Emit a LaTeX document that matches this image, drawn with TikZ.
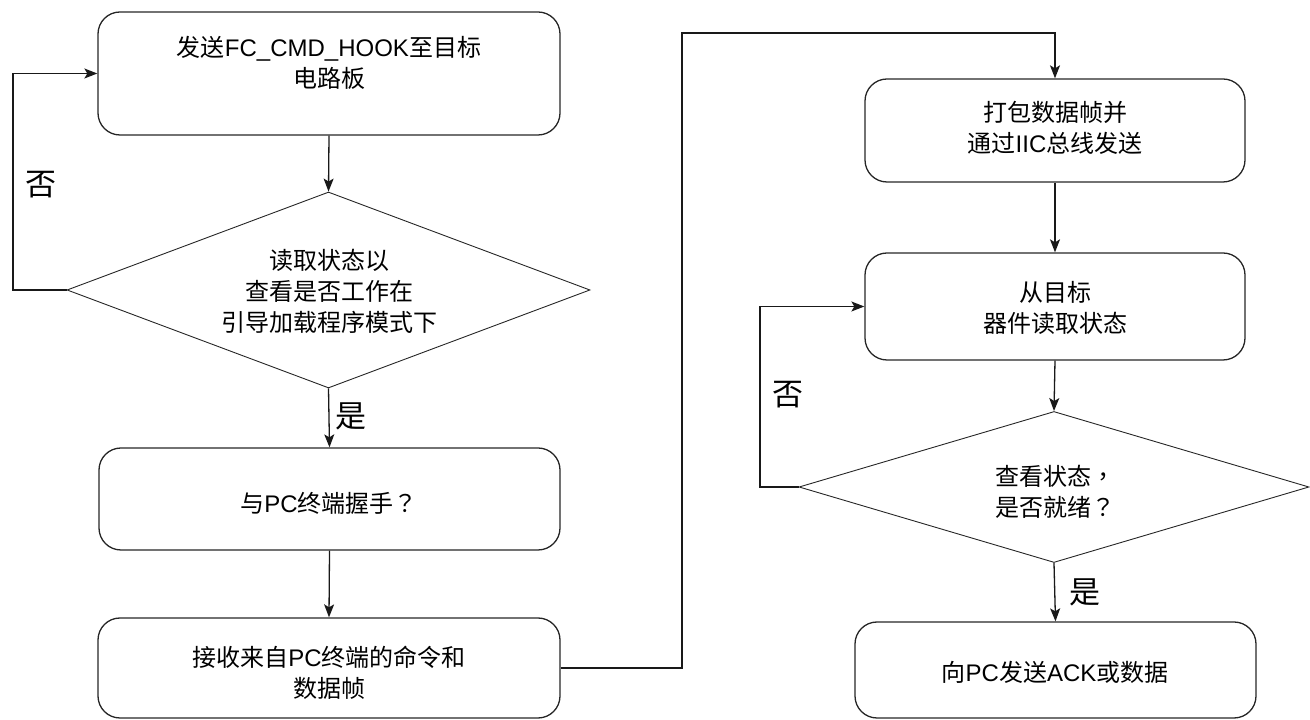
\documentclass[tikz,border=0pt]{standalone}
\usepackage{fontspec}
\setmainfont{Noto Sans CJK SC}
\newfontfamily\lat{Liberation Sans}
\newfontfamily\tcp{Noto Sans CJK TC}
\usetikzlibrary{shapes.geometric,arrows.meta}
\begin{document}
\begin{tikzpicture}[x=1pt,y=1pt,
  box/.style={draw=black!85, line width=1.3pt, rounded corners=22pt, inner sep=0pt},
  dia/.style={draw=black!85, line width=0.9pt, diamond, inner sep=0pt},
  txt/.style={font=\fontsize{24pt}{31pt}\selectfont, align=center, inner sep=0pt},
  lbl/.style={font=\fontsize{31pt}{31pt}\selectfont, inner sep=0pt},
  conn/.style={draw=black!90, line width=1.3pt},
  arr/.style={conn, -{Stealth[length=13pt,width=10pt,inset=3pt]}}]
\useasboundingbox (0,0) rectangle (1310,720);
% shapes
\node[box, minimum width=462pt, minimum height=123pt] (b1) at (329,646.5) {};
\node[dia, minimum width=523pt, minimum height=196pt] (d1) at (328.5,430) {};
\node[box, minimum width=461pt, minimum height=102pt] (b2) at (329.5,221) {};
\node[box, minimum width=462pt, minimum height=100pt] (b3) at (329,52) {};
\node[box, minimum width=380pt, minimum height=103pt] (b4) at (1055,589.5) {};
\node[box, minimum width=380pt, minimum height=107pt] (b5) at (1055,413.5) {};
\node[dia, minimum width=510pt, minimum height=151pt] (d2) at (1054,233) {};
\node[box, minimum width=401pt, minimum height=96pt] (b6) at (1055.5,50) {};
% texts
\node[txt] (t1) at (329,657) {发送{\lat FC\_CMD\_HOOK}至目标\\电路板};
\node[txt] (t2) at (329,429) {读取状态以\\查看是否工作在\\引导加载程序模式下};
\node[txt] (t3) at (329,217) {与{\lat PC}终端握手{\tcp ？}};
\node[txt] (t4) at (329,47.5) {接收来自{\lat PC}终端的命令和\\数据帧};
\node[txt] (t5) at (1055,592) {打包数据帧并\\通过{\lat IIC}总线发送};
\node[txt] (t6) at (1055,412) {从目标\\器件读取状态};
\node[txt] (t7) at (1055,228) {查看状态{\tcp ，}\\是否就绪{\tcp ？}};
\node[txt] (t8) at (1055,48) {向{\lat PC}发送{\lat ACK}或数据};
% connectors
\coordinate (c1) at (13,430);
\coordinate (c2) at (682,52);
\coordinate (c3) at (682,687);
\coordinate (c4) at (760,233);
\draw[arr] (b1.south) -- (d1.north);
\draw[arr] (d1.west) -- (c1) |- (b1.west);
\draw[arr] (d1.south) -- (b2.north);
\draw[arr] (b2.south) -- (b3.north);
\draw[arr] (b3.east) -- (c2) -- (c3) -| (b4.north);
\draw[arr] (b4.south) -- (b5.north);
\draw[arr] (b5.south) -- (d2.north);
\draw[arr] (d2.west) -- (c4) |- (b5.west);
\draw[arr] (d2.south) -- (b6.north);
% labels
\node[lbl] (n1) at (41,535) {否};
\node[lbl] (y1) at (351,304) {是};
\node[lbl] (n2) at (788,325) {否};
\node[lbl] (y2) at (1085,128) {是};
\end{tikzpicture}
\end{document}
